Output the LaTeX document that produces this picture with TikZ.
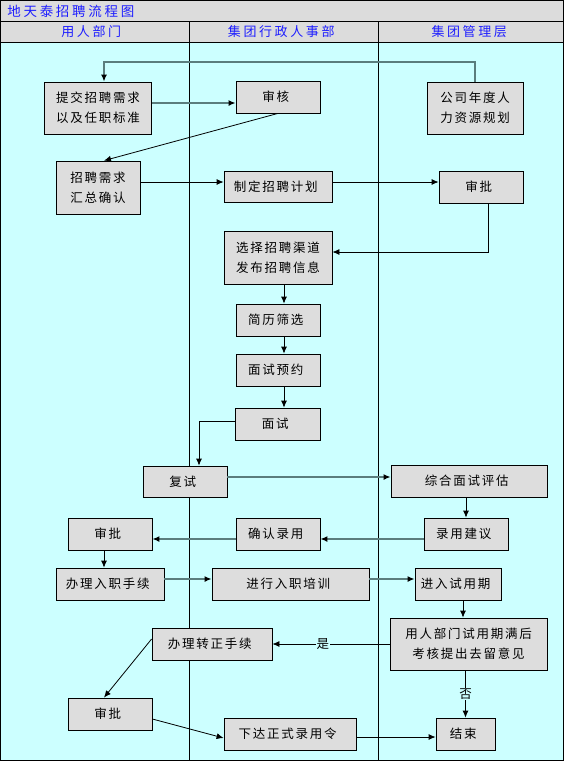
\documentclass[tikz,border=0pt]{standalone}
\usepackage{fontspec}
\setmainfont{Noto Sans CJK SC}
\newfontfamily\boxfont[LetterSpace=14]{Noto Sans CJK SC}
\newfontfamily\headfont[LetterSpace=20]{Noto Sans CJK SC}
\usetikzlibrary{arrows.meta}
\usepackage{xcolor}
\definecolor{lanecyan}{RGB}{204,255,255}
\definecolor{boxgray}{RGB}{221,221,221}
\definecolor{bargray}{RGB}{220,220,220}
\definecolor{titleblue}{RGB}{30,30,255}
\definecolor{linkgray}{RGB}{90,125,125}

\begin{document}
\begin{tikzpicture}[x=1pt, y=-1pt,
every node/.style={
    rectangle,
    inner sep=0pt,
    draw=black,
    line width=0.8pt,
    fill=boxgray,
    align=center,
    font=\boxfont\fontsize{12.5}{20}\selectfont
},
lanetext/.style={draw=none, fill=none, text=titleblue, font=\headfont\fontsize{13}{15}\selectfont},
answer/.style={draw=none, fill=lanecyan, inner sep=1pt},
thinlink/.style={-{Latex[length=7pt,width=6pt]}, black, line width=0.8pt},
widelink/.style={-{Latex[length=7pt,width=6pt,color=black]}, linkgray, line width=2pt}
]
    \useasboundingbox (0,0) rectangle (564,761);
    \fill[lanecyan] (0,42) rectangle (564,761);
    \fill[bargray] (0,0) rectangle (564,42);
    \draw[line width=0.8pt] (0,21) -- (564,21) (0,42) -- (564,42);
    \draw[line width=0.8pt] (189,21) -- (189,761) (378,21) -- (378,761);
    \draw[line width=1pt] (0.5,0.5) rectangle (563.5,760.5);

    \node (chart_title) [lanetext, anchor=west, shift={(7,11)}, font=\headfont\fontsize{13.5}{15}\selectfont]
    {
        地天泰招聘流程图
    };
    \node (user_dept_head) [lanetext, shift={(94,32)}]
    {
        用人部门
    };
    \node (admin_hr_head) [lanetext, shift={(284,32)}]
    {
        集团行政人事部
    };
    \node (board_head) [lanetext, shift={(472,32)}]
    {
        集团管理层
    };

    \node (submit) [minimum width=107pt, minimum height=52pt, shift={(98,108)}]
    {
        提交招聘需求\\以及任职标准
    };
    \node (review) [minimum width=84pt, minimum height=32pt, shift={(278,97)}]
    {
        审核
    };
    \node (yearplan) [minimum width=96pt, minimum height=52pt, shift={(475,108)}]
    {
        公司年度人\\力资源规划
    };
    \node (summary) [minimum width=84pt, minimum height=53pt, shift={(98,187.5)}]
    {
        招聘需求\\汇总确认
    };
    \node (makeplan) [minimum width=108pt, minimum height=31pt, shift={(278,186.5)}]
    {
        制定招聘计划
    };
    \node (approve_plan) [minimum width=84pt, minimum height=32pt, shift={(481,187)}]
    {
        审批
    };
    \node (channel) [minimum width=108pt, minimum height=53pt, shift={(278,257.5)}]
    {
        选择招聘渠道\\发布招聘信息
    };
    \node (screen) [minimum width=84pt, minimum height=32pt, shift={(278,320)}]
    {
        简历筛选
    };
    \node (booking) [minimum width=84pt, minimum height=32pt, shift={(278,370)}]
    {
        面试预约
    };
    \node (interview) [minimum width=85pt, minimum height=32pt, shift={(277.5,424)}]
    {
        面试
    };
    \node (reinterview) [minimum width=84pt, minimum height=31pt, shift={(185,481.5)}]
    {
        复试
    };
    \node (evaluate) [minimum width=156pt, minimum height=32pt, shift={(469,481)}]
    {
        综合面试评估
    };
    \node (approve_hire) [minimum width=84pt, minimum height=32pt, shift={(110,534)}]
    {
        审批
    };
    \node (confirm) [minimum width=84pt, minimum height=32pt, shift={(278,534)}]
    {
        确认录用
    };
    \node (advise) [minimum width=84pt, minimum height=32pt, shift={(466,534)}]
    {
        录用建议
    };
    \node (onboard) [minimum width=108pt, minimum height=32pt, shift={(110,584)}]
    {
        办理入职手续
    };
    \node (training) [minimum width=157pt, minimum height=32pt, shift={(290.5,584)}]
    {
        进行入职培训
    };
    \node (probation) [minimum width=86pt, minimum height=32pt, shift={(458,584)}]
    {
        进入试用期
    };
    \node (regular) [minimum width=120pt, minimum height=32pt, shift={(212,644)}]
    {
        办理转正手续
    };
    \node (assess) [minimum width=157pt, minimum height=52pt, shift={(468.5,644)}]
    {
        用人部门试用期满后\\考核提出去留意见
    };
    \node (approve_regular) [minimum width=84pt, minimum height=32pt, shift={(110,714)}]
    {
        审批
    };
    \node (order) [minimum width=132pt, minimum height=32pt, shift={(290,734)}]
    {
        下达正式录用令
    };
    \node (finish) [minimum width=59pt, minimum height=32pt, shift={(465.5,734)}]
    {
        结束
    };

    \draw[widelink] (yearplan.north) -- ++(0,-20) -| ([xshift=6pt]submit.north);
    \draw[widelink] ([yshift=5pt]submit.east) to ([yshift=5pt]submit.east -| review.west);
    \draw[thinlink] (review.south) to ([xshift=6pt]summary.north);
    \draw[thinlink] ([yshift=5.5pt]summary.east) to ([yshift=5.5pt]summary.east -| makeplan.west);
    \draw[thinlink] ([yshift=4.5pt]makeplan.east) to ([yshift=4.5pt]makeplan.east -| approve_plan.west);
    \draw[thinlink] ([xshift=7pt]approve_plan.south) |- ([yshift=5.5pt]channel.east);
    \draw[thinlink] ([xshift=6pt]channel.south) to ([xshift=6pt]screen.north);
    \draw[thinlink] ([xshift=6pt]screen.south) to ([xshift=6pt]booking.north);
    \draw[thinlink] ([xshift=6pt]booking.south) to ([xshift=6pt]booking.south |- interview.north);
    \draw[thinlink] ([yshift=3pt]interview.west) -| ([xshift=14pt]reinterview.north);
    \draw[widelink] ([yshift=4.5pt]reinterview.east) to ([yshift=4.5pt]reinterview.east -| evaluate.west);
    \draw[thinlink] (advise.north |- evaluate.south) to (advise.north);
    \draw[widelink] ([yshift=-5pt]advise.west) to ([yshift=-5pt]advise.west -| confirm.east);
    \draw[widelink] ([yshift=-5pt]confirm.west) to ([yshift=-5pt]confirm.west -| approve_hire.east);
    \draw[thinlink] ([xshift=-6pt]approve_hire.south) to ([xshift=-6pt]onboard.north);
    \draw[widelink] ([yshift=5pt]onboard.east) to ([yshift=5pt]onboard.east -| training.west);
    \draw[widelink] ([yshift=5pt]training.east) to ([yshift=5pt]training.east -| probation.west);
    \draw[thinlink] ([xshift=5pt]probation.south) to ([xshift=5pt]probation.south |- assess.north);
    \draw[thinlink] (assess.west) to node[answer, pos=0.57] {是} (regular.east);
    \draw[thinlink] (assess.south -| finish.north) to node[answer] {否} (finish.north);
    \draw[thinlink] ([yshift=5pt]regular.west) to ([xshift=-6pt]approve_regular.north);
    \draw[thinlink] ([yshift=-5pt]approve_regular.east) to ([yshift=-4pt]order.west);
    \draw[thinlink] ([yshift=-3pt]order.east) to ([yshift=-3pt]order.east -| finish.west);
\end{tikzpicture}
\end{document}
